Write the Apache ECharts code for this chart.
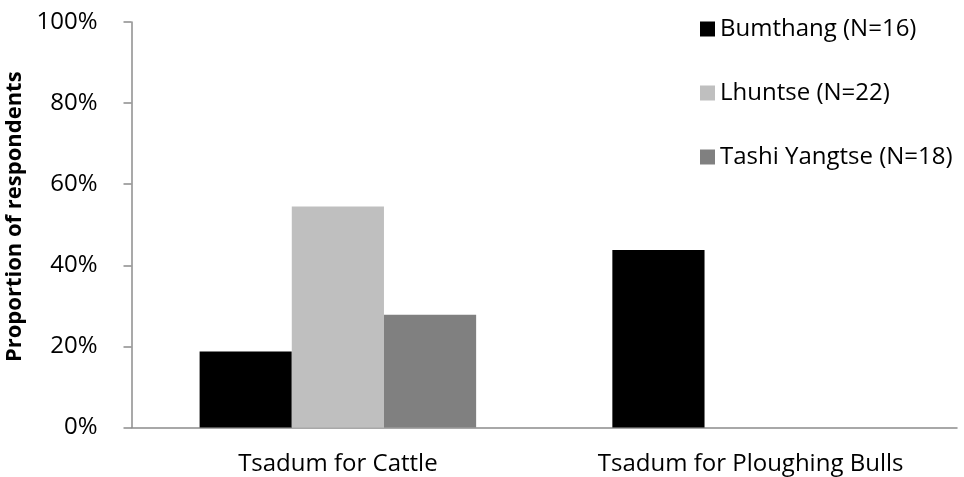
<!DOCTYPE html>
<html>
<head>
    <meta charset="utf-8" />
    <title>Tsadum</title>
    <script src="https://cdn.jsdelivr.net/npm/echarts@6/dist/echarts.min.js"></script>
    <style>
        html, body { margin: 0; padding: 0; background: #fff; }
        #main { width: 964px; height: 477px; }
    </style>
</head>
<body>
<div id="main"></div>
<script type="text/javascript">
    var categories = ['Tsadum for Cattle', 'Tsadum for Ploughing Bulls'];
    var seriesNames = ['Bumthang (N=16)', 'Lhuntse (N=22)', 'Tashi Yangtse (N=18)'];
    var bumthang = [18.75, 43.75];
    var lhuntse = [54.5, 0];
    var tashiYangtse = [27.8, 0];
    var colors = ['#000000', '#bfbfbf', '#808080'];

    var font = '"Open Sans", Lato, sans-serif';
    var axisGray = '#8c8c8c';

    var myChart = echarts.init(document.getElementById('main'));

    var values = [bumthang, lhuntse, tashiYangtse];
    var series = [];
    for (var i = 0; i < seriesNames.length; i++) {
        series.push({
            name: seriesNames[i],
            type: 'bar',
            data: values[i],
            barGap: 0,
            barCategoryGap: '33%',
            itemStyle: { color: colors[i] }
        });
    }

    var option = {
        animation: false,
        color: colors,
        textStyle: { fontFamily: font },
        grid: { left: 131.5, right: 7, top: 22, bottom: 49.5, containLabel: false, outerBoundsMode: 'none' },
        legend: {
            orient: 'vertical',
            left: 700,
            top: 17,
            padding: 0,
            itemWidth: 15,
            itemHeight: 15,
            itemGap: 40,
            icon: 'rect',
            textStyle: { fontFamily: font, fontSize: 24, color: '#000', lineHeight: 24 },
            data: seriesNames
        },
        xAxis: {
            type: 'category',
            data: categories,
            axisLine: { lineStyle: { color: axisGray, width: 1.5 } },
            axisTick: { show: false },
            axisLabel: { color: '#000', fontSize: 24, fontFamily: font, margin: 25 }
        },
        yAxis: {
            type: 'value',
            min: 0,
            max: 100,
            interval: 20,
            name: 'Proportion of respondents',
            nameLocation: 'middle',
            nameGap: 90,
            nameTextStyle: { fontSize: 22, fontWeight: 'bold', color: '#000', fontFamily: font, padding: [0, 0, 0, 16] },
            axisLine: { show: true, lineStyle: { color: axisGray, width: 1.5 } },
            axisTick: { show: true, length: 8, lineStyle: { color: axisGray, width: 1.5 } },
            splitLine: { show: false },
            axisLabel: { color: '#000', fontSize: 24, fontFamily: font, margin: 34, padding: [6, 0, 0, 0], formatter: '{value}%' }
        },
        series: series
    };

    myChart.setOption(option);
</script>
</body>
</html>
